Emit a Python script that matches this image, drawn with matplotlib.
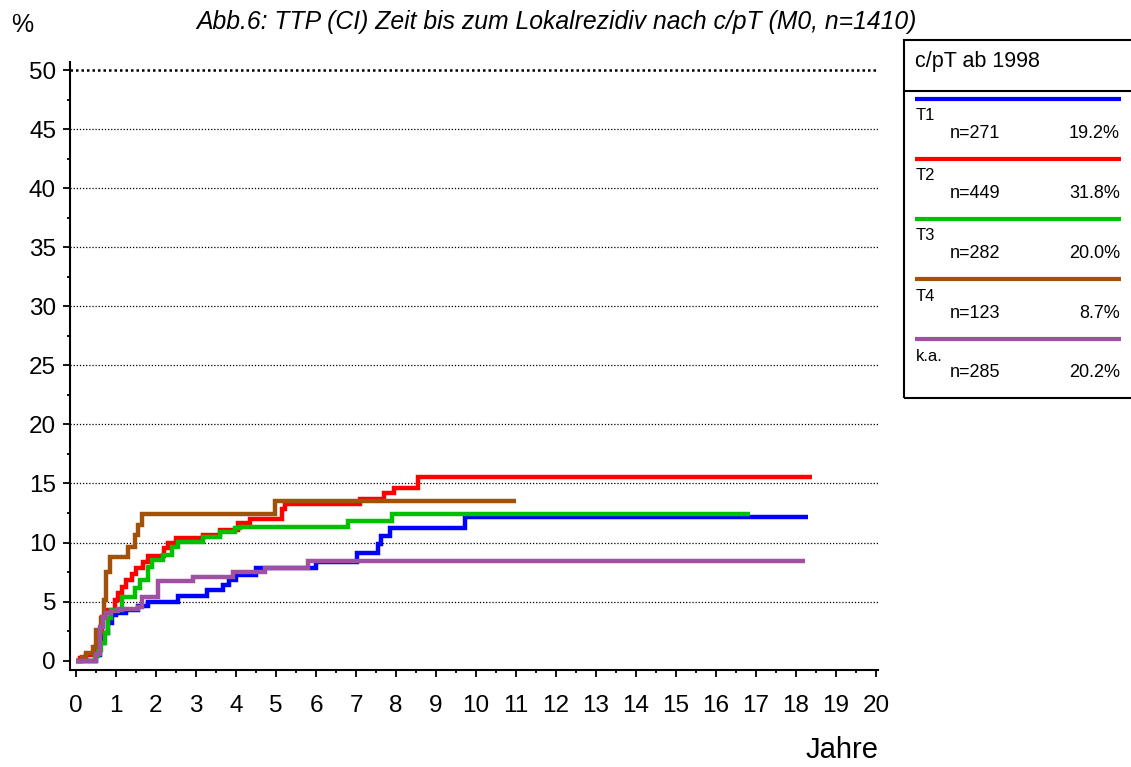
import matplotlib
matplotlib.use('Agg')
import matplotlib.pyplot as plt
from matplotlib.lines import Line2D
from matplotlib.patches import Rectangle
from matplotlib.ticker import MultipleLocator

plt.rcParams['font.family'] = ['Liberation Sans', 'DejaVu Sans']

# Daten
T1_T = [0, 0.51, 0.6, 0.7, 0.8, 0.9, 1.01, 1.26, 1.55, 1.8, 2.56, 3.27, 3.68, 3.83, 4.01, 4.51, 6.0, 7.02, 7.55, 7.63, 7.84, 9.73, 18.31]
T1_Y = [0, 0.5, 1.5, 2.3, 3.2, 3.9, 4.0, 4.3, 4.6, 5.0, 5.48, 5.99, 6.41, 6.83, 7.26, 7.85, 8.33, 9.15, 9.9, 10.56, 11.26, 12.14, 12.14]

T2_T = [0, 0.1, 0.26, 0.47, 0.55, 0.65, 0.75, 0.97, 1.05, 1.14, 1.26, 1.39, 1.51, 1.68, 1.8, 2.2, 2.3, 2.5, 3.18, 3.6, 4.05, 4.35, 5.14, 5.22, 7.09, 7.71, 7.96, 8.54, 18.41]
T2_Y = [0, 0.2, 0.45, 0.9, 2.35, 3.73, 4.29, 5.14, 5.7, 6.27, 6.83, 7.34, 7.82, 8.38, 8.87, 9.52, 9.99, 10.36, 10.64, 11.07, 11.63, 11.97, 12.82, 13.3, 13.67, 14.17, 14.6, 15.53, 15.53]

T3_T = [0, 0.47, 0.55, 0.62, 0.72, 0.8, 0.88, 1.14, 1.47, 1.6, 1.8, 1.9, 2.18, 2.4, 2.55, 3.18, 3.6, 3.97, 4.1, 6.8, 7.9, 16.86]
T3_Y = [0, 0.4, 0.9, 1.5, 2.3, 3.6, 4.29, 5.42, 6.13, 6.83, 7.96, 8.53, 8.95, 9.65, 10.08, 10.45, 10.87, 11.2, 11.35, 11.86, 12.42, 12.42]

T4_T = [0, 0.14, 0.26, 0.43, 0.5, 0.62, 0.7, 0.76, 0.85, 1.3, 1.47, 1.55, 1.64, 4.97, 11.0]
T4_Y = [0, 0.34, 0.68, 1.19, 2.6, 3.59, 5.14, 7.54, 8.76, 9.65, 10.64, 11.49, 12.42, 13.55, 13.55]

KA_T = [0, 0.51, 0.6, 0.68, 0.75, 0.88, 1.06, 1.55, 1.64, 2.05, 2.93, 3.93, 4.72, 5.8, 18.23]
KA_Y = [0, 0.6, 2.88, 3.73, 4.06, 4.2, 4.38, 4.52, 5.42, 6.77, 7.06, 7.54, 7.88, 8.4, 8.4]

GRUPPEN = ['T1', 'T2', 'T3', 'T4', 'k.a.']
N_WERTE = [271, 449, 282, 123, 285]
PROZENT = ['19.2%', '31.8%', '20.0%', '8.7%', '20.2%']
FARBEN = ['#0000ff', '#ff0000', '#00c000', '#a0520a', '#a050a0']
KURVEN = [(T1_T, T1_Y), (T2_T, T2_Y), (T3_T, T3_Y), (T4_T, T4_Y), (KA_T, KA_Y)]

W, H = 1131, 767
fig = plt.figure(figsize=(W / 100, H / 100), dpi=100)


def fx(px):
    return px / W


def fy(py):
    return 1 - py / H


# Achsen: y-Achse bei px 70, x-Achse bei py 670
ax = fig.add_axes([fx(70), fy(670), (878 - 70) / W, (670 - 62) / H])
ax.set_xlim(-0.15, 20.05)
ax.set_ylim(-0.79, 50.68)

for s in ['top', 'right']:
    ax.spines[s].set_visible(False)
for s in ['left', 'bottom']:
    ax.spines[s].set_linewidth(1.5)

# Gitterlinien
for g in range(5, 50, 5):
    ax.axhline(g, color='black', linestyle=(0, (1, 1.5)), linewidth=0.9, zorder=1)
ax.axhline(50, color='black', linestyle=(0, (1, 1.2)), linewidth=1.8, zorder=1)

for i, (t, y) in enumerate(KURVEN):
    ax.step(t, y, where='post', color=FARBEN[i], linewidth=3.2, zorder=3 + i,
            solid_joinstyle='miter', solid_capstyle='butt')

ax.xaxis.set_major_locator(MultipleLocator(1))
ax.xaxis.set_minor_locator(MultipleLocator(0.5))
ax.yaxis.set_major_locator(MultipleLocator(5))
ax.yaxis.set_minor_locator(MultipleLocator(2.5))
ax.tick_params(axis='x', which='major', direction='out', length=5, width=1.3, pad=13, labelsize=17.5)
ax.tick_params(axis='x', which='minor', direction='out', length=2.5, width=1.3)
ax.tick_params(axis='y', which='major', direction='out', length=5, width=1.3, pad=5, labelsize=17.5)
ax.tick_params(axis='y', which='minor', direction='out', length=2.5, width=1.3)

# Texte
fig.text(fx(556), fy(22), 'Abb.6: TTP (CI) Zeit bis zum Lokalrezidiv nach c/pT (M0, n=1410)',
         ha='center', va='center', fontsize=17.8, style='italic')
fig.text(fx(22), fy(25), '%', ha='center', va='center', fontsize=18)
fig.text(fx(879), fy(750), 'Jahre', ha='right', va='center', fontsize=21)

# Legende
fig.add_artist(Rectangle((fx(904), fy(398)), (W + 5 - 904) / W, (398 - 40) / H,
                         transform=fig.transFigure, fill=False, edgecolor='black', linewidth=1.5))
fig.add_artist(Line2D([fx(904), fx(W + 5)], [fy(90.7), fy(90.7)], transform=fig.transFigure,
                      color='black', linewidth=1.5))
fig.text(fx(915), fy(62), 'c/pT ab 1998', ha='left', va='center', fontsize=15.5)
for i, g in enumerate(GRUPPEN):
    ly = 99 + 60 * i
    fig.add_artist(Line2D([fx(915), fx(1121)], [fy(ly), fy(ly)], transform=fig.transFigure,
                          color=FARBEN[i], linewidth=3, solid_capstyle='butt'))
    fig.text(fx(916), fy(ly + 17), g, ha='left', va='center', fontsize=12)
    fig.text(fx(950), fy(ly + 34), 'n=%d' % N_WERTE[i], ha='left', va='center', fontsize=13)
    fig.text(fx(1120), fy(ly + 34), PROZENT[i], ha='right', va='center', fontsize=13)

fig.savefig('out.png', dpi=100)
